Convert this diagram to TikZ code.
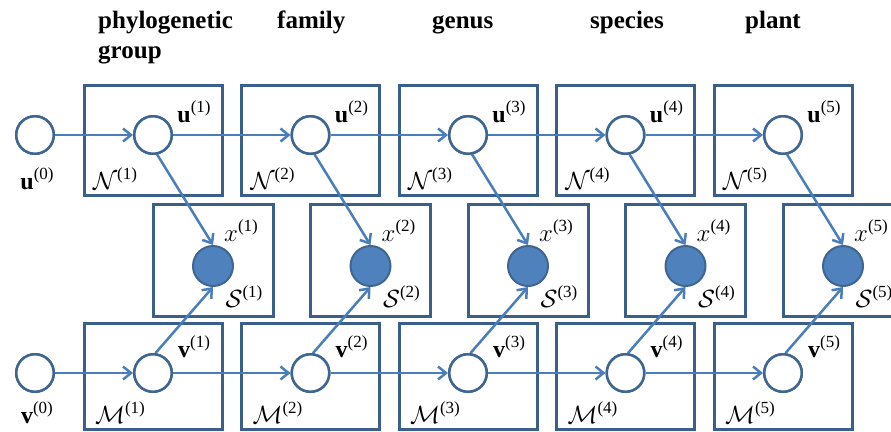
\documentclass[tikz,border=0pt]{standalone}
\usepackage{fontspec}
\setmainfont{Liberation Serif}
\usetikzlibrary{arrows.meta}
\definecolor{boxc}{HTML}{3A5F8B}
\definecolor{arrc}{HTML}{4A7EBB}
\definecolor{circc}{HTML}{3F6591}
\definecolor{fillc}{HTML}{4F81BD}
\newcommand\supp[1]{\raisebox{0.42em}{\fontsize{17}{17}\selectfont(#1)}}
\tikzset{
 plate/.style={draw=boxc, line width=3pt, rectangle, inner sep=0pt},
 latent/.style={circle, draw=circc, fill=white, line width=2.5pt, minimum size=37.5pt, inner sep=0pt},
 obs/.style={circle, draw=circc, fill=fillc, line width=2pt, minimum size=40pt, inner sep=0pt},
 edge/.style={draw=arrc, line width=2.5pt, -{Straight Barb[length=8pt,width=13pt,line width=2.5pt]}},
 lab/.style={inner sep=0pt, text=black, font=\fontsize{24}{26}\selectfont},
 head/.style={inner sep=0pt, anchor=base west, text=black, font=\fontsize{25}{30}\selectfont\bfseries, align=left},
}
\begin{document}
\begin{tikzpicture}[x=1pt,y=-1pt]
\useasboundingbox (0,0) rectangle (891,431);
\clip (0,0) rectangle (891,431);
% headers
\node[head] (h1) at (98,58) {phylogenetic\\group};
\node[head] (h2) at (277,28) {family};
\node[head] (h3) at (432,28) {genus};
\node[head] (h4) at (590,28) {species};
\node[head] (h5) at (745,28) {plant};
% plates
\foreach \i in {1,...,5} {
  \pgfmathsetmacro\cx{153+157.5*(\i-1)}
  \node[plate, minimum width=138pt, minimum height=110pt] (pu\i) at (\cx,140) {};
  \node[plate, minimum width=120pt, minimum height=112pt] (px\i) at (\cx+60,260) {};
  \node[plate, minimum width=138pt, minimum height=106pt] (pv\i) at (\cx,376) {};
}
% nodes
\node[latent] (u0) at (35,135) {};
\node[latent] (v0) at (35,373) {};
\node[lab] (lu0) at (37,179) {\textbf{u}\supp{0}};
\node[lab] (lv0) at (37,413) {\textbf{v}\supp{0}};
\foreach \i in {1,...,5} {
  \pgfmathsetmacro\cx{153+157.5*(\i-1)}
  \node[latent] (u\i) at (\cx,135) {};
  \node[latent] (v\i) at (\cx,373) {};
  \node[obs] (x\i) at (\cx+60,266) {};
  \node[lab] (lu\i) at (\cx+41,112) {\textbf{u}\supp{\i}};
  \node[lab] (lN\i) at (\cx-38,179) {$\mathcal{N}$\supp{\i}};
  \node[lab] (lx\i) at (\cx+88,231) {$x$\supp{\i}};
  \node[lab] (lS\i) at (\cx+91,297) {$\mathcal{S}$\supp{\i}};
  \node[lab] (lv\i) at (\cx+41,347) {\textbf{v}\supp{\i}};
  \node[lab] (lM\i) at (\cx-33,413) {$\mathcal{M}$\supp{\i}};
}
% edges
\foreach \i [count=\j from 0] in {1,...,5} {
  \draw[edge] (u\j) -- (u\i);
  \draw[edge] (v\j) -- (v\i);
  \draw[edge] (u\i.-78) -- (x\i.north);
  \draw[edge] (v\i.83) -- (x\i.south);
}
% redraw circles on top
\foreach \i in {0,...,5} {
  \pgfmathsetmacro\cx{ifthenelse(\i==0,35,153+157.5*(\i-1))}
  \node[latent] at (\cx,135) {};
  \node[latent] at (\cx,373) {};
}
\end{tikzpicture}
\end{document}
